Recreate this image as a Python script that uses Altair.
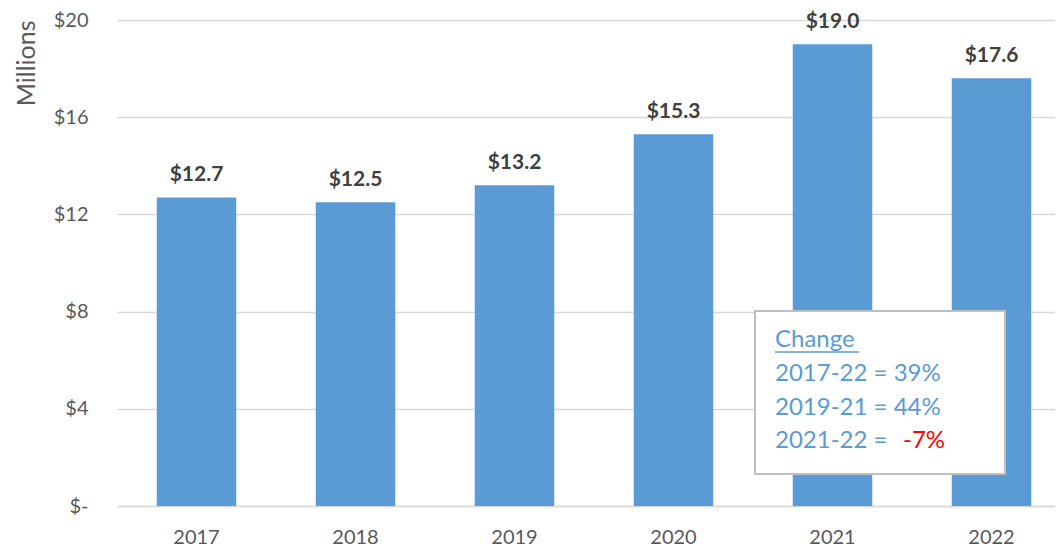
import altair as alt
import pandas as pd

years = ["2017", "2018", "2019", "2020", "2021", "2022"]
values = [12.7, 12.5, 13.2, 15.3, 19.0, 17.6]
y_ticks = [0, 4, 8, 12, 16, 20]
note_title = "Change"
note_lines = ["2017-22 = 39%", "2019-21 = 44%", "2021-22 = "]
note_red = "-7%"

df = pd.DataFrame({"year": years, "value": values})
df["label"] = ["$" + format(v, ".1f") for v in values]

FONT = "Lato"
BLUE = "#5B9BD5"
GREY = "#595959"

x = alt.X("year:N", title=None, sort=years,
          scale=alt.Scale(paddingInner=0.5, paddingOuter=0.25),
          axis=alt.Axis(labelAngle=0, labelFontSize=20, labelColor=GREY,
                        labelFont=FONT, labelPadding=21, ticks=False,
                        domainColor="#D9D9D9", domainWidth=1.5, grid=False))
y = alt.Y("value:Q", title="Millions",
          scale=alt.Scale(domain=[0, 20], nice=False),
          axis=alt.Axis(values=y_ticks,
                        labelExpr="datum.value == 0 ? '$-' : '$' + datum.value",
                        labelFontSize=20, labelColor=GREY, labelFont=FONT,
                        labelPadding=29, ticks=False, domain=False,
                        gridColor="#D9D9D9", gridWidth=1.5,
                        titleFont=FONT, titleFontSize=25, titleFontWeight="normal",
                        titleColor=GREY, titleAngle=-90, titleX=-91, titleY=0,
                        titleAlign="right", titleBaseline="middle"))

bars = alt.Chart(df).mark_bar(color=BLUE).encode(x=x, y=y)
labels = alt.Chart(df).mark_text(font=FONT, fontSize=21, fontWeight="bold",
                                 color="#404040", baseline="alphabetic", dy=-16).encode(
    x=x, y=y, text="label:N")

one = pd.DataFrame({"k": [0]})
box = alt.Chart(one).mark_rect(fill="white", stroke="#BFBFBF", strokeWidth=2).encode(
    x=alt.value(638), x2=alt.value(888), y=alt.value(291), y2=alt.value(454))

def txt(t, xp, yp, color=BLUE):
    return alt.Chart(one).mark_text(font=FONT, fontSize=24, color=color,
                                    align="left", baseline="middle").encode(
        x=alt.value(xp), y=alt.value(yp), text=alt.value(t))

t0 = txt(note_title, 658, 320)
underline = alt.Chart(one).mark_rule(color=BLUE, strokeWidth=1.5).encode(
    x=alt.value(658), x2=alt.value(742), y=alt.value(332))
t1 = txt(note_lines[0], 658, 354)
t2 = txt(note_lines[1], 658, 388)
t3 = txt(note_lines[2], 658, 421)
t4 = txt(note_red, 786, 421, color="#FF0000")

chart = alt.layer(bars, labels, box, t0, underline, t1, t2, t3, t4).properties(
    width=954, height=486,
    autosize=alt.AutoSizeParams(type="none"),
    padding={"left": 109, "top": 12, "right": -16, "bottom": 50},
).configure_view(stroke=None)

chart.save("out.html", embed_options={"renderer": "svg", "actions": False})
